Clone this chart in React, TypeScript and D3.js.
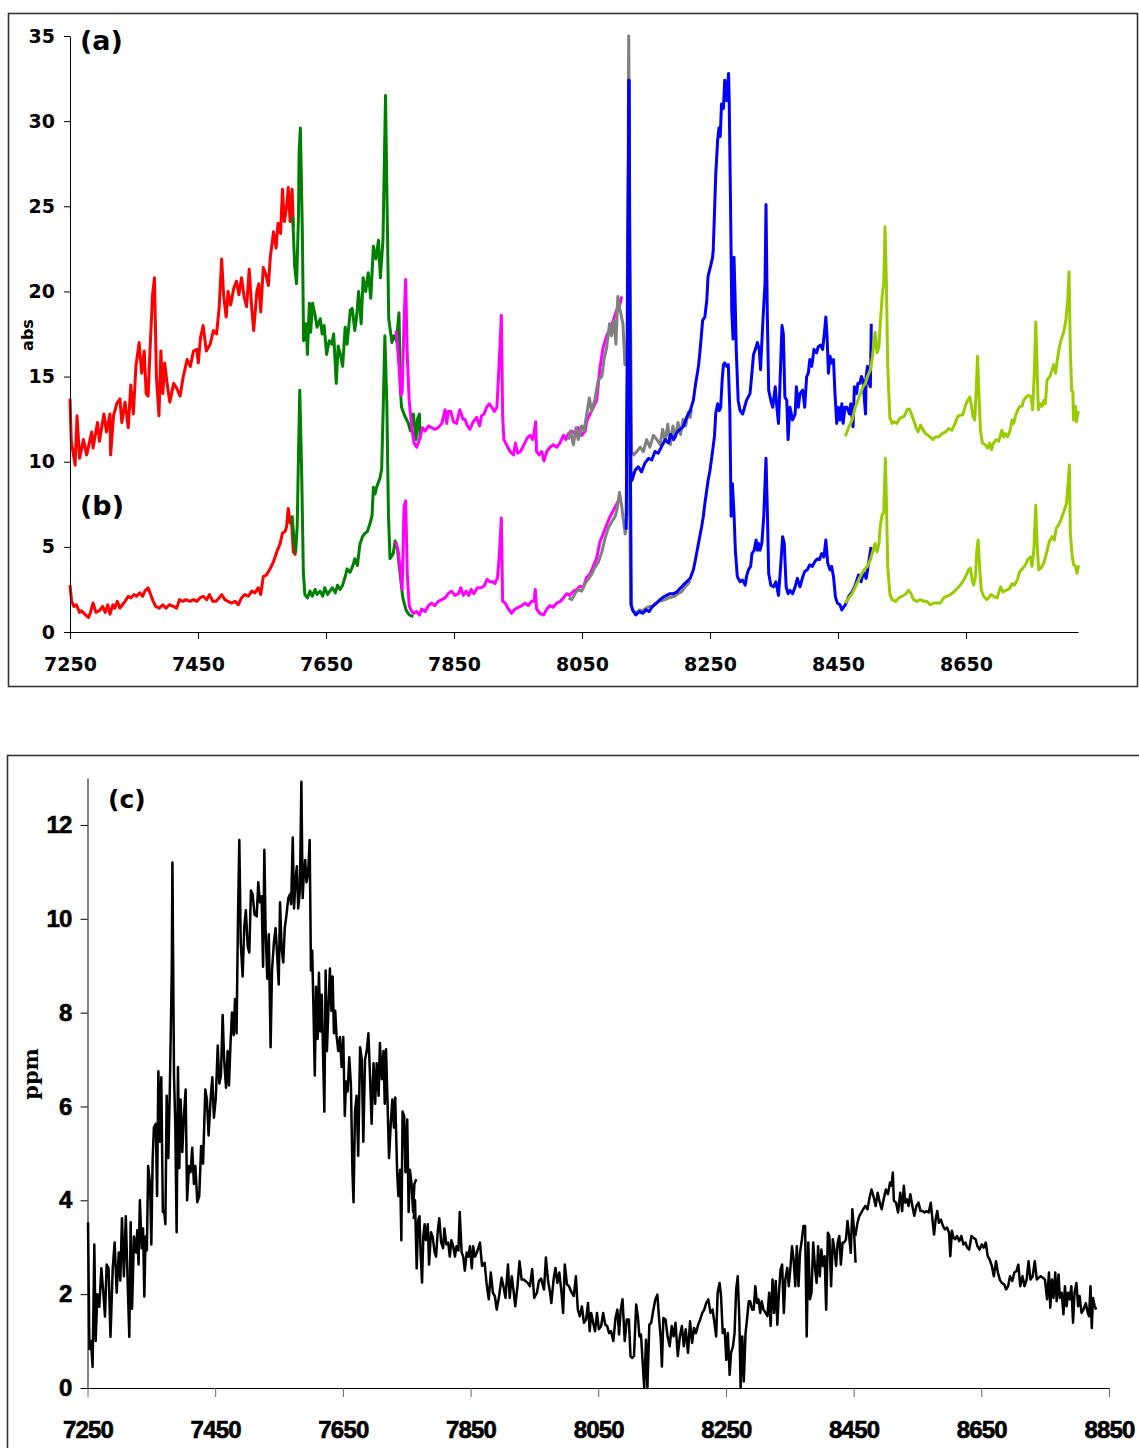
import React, { useEffect, useRef } from 'react';
import * as d3 from 'd3';

type Pt = [number, number];

// ---- panel (a): absorbance, upper traces ----
const redA: Pt[] = [[7250,13.7],[7252,11.2],[7258,9.8],[7261,12.7],[7265,10.2],[7271,11.3],[7276,10.4],[7284,11.75],[7286,10.8],[7293,12.3],[7296,11.2],[7303,12.8],[7307,11.75],[7312.5,12.8],[7313.5,10.4],[7318,12.7],[7323,13.4],[7328,13.7],[7331,12.3],[7336,13.5],[7341,12.0],[7345,14.5],[7349,12.8],[7353,15.6],[7358,17.0],[7362,15.2],[7366,16.5],[7369,14.0],[7372,13.85],[7375,16.5],[7379,19.8],[7382,20.8],[7385,15.0],[7389,12.7],[7392,16.5],[7395,14.0],[7398,15.8],[7402,14.5],[7406,13.5],[7412,14.6],[7417,14.3],[7422,13.85],[7427,15.0],[7433,16.0],[7438,15.6],[7443,16.5],[7448,16.6],[7450.5,15.8],[7454,17.3],[7458,18.0],[7463,16.5],[7469,16.9],[7474,17.7],[7479,17.5],[7483,19.0],[7487,21.9],[7490,19.8],[7494,18.5],[7497,20.0],[7501,19.2],[7506,20.2],[7510,20.6],[7514,19.8],[7518,20.8],[7522,19.7],[7526,19.1],[7530,21.3],[7534,19.0],[7537,17.7],[7542,20.0],[7545,20.45],[7548,18.8],[7552,21.4],[7556,21.0],[7560,20.35],[7563,22.0],[7568,23.5],[7572,22.55],[7575,24.0],[7579,23.4],[7582,26.0],[7585,24.1],[7589,25.1],[7591,26.1],[7594,24.1],[7597,26.0],[7599,23.8]];
const greenA: Pt[] = [[7598,24.4],[7601,21.5],[7604,20.45],[7607,24.4],[7608,28.2],[7610,29.6],[7613,23.6],[7615,17.1],[7619,18.1],[7621,16.3],[7624,19.3],[7626,17.6],[7629,19.3],[7633,18.6],[7636,17.9],[7641,18.4],[7644,17.5],[7647,18.0],[7651,16.3],[7655,17.1],[7659,16.9],[7662,17.5],[7666,14.6],[7669,16.8],[7673,16.2],[7676,15.6],[7680,17.9],[7683,16.9],[7688,18.9],[7691,19.0],[7695,17.7],[7698,18.6],[7701,20.0],[7705,18.1],[7708,20.8],[7712,20.0],[7716,21.1],[7720,19.6],[7724,22.65],[7728,21.9],[7732,23.0],[7735,20.8],[7739,23.0],[7741,27.2],[7743,31.5],[7746,23.6],[7748,18.4],[7753,17.0],[7756,17.4],[7760,17.1],[7764,18.75],[7766.5,14.1],[7768,13.2],[7773,12.7],[7778.7,12.25],[7782,11.8],[7786.5,12.8],[7790.7,11.3],[7793,12.5],[7796,12.8],[7797,11.3]];
const magentaA: Pt[] = [[7759.4,17.7],[7763,16.2],[7767,13.9],[7769,14.1],[7772,18.3],[7774.5,20.7],[7777,16.2],[7780,13.6],[7784,12.0],[7787.5,11.1],[7791.7,10.85],[7796,11.3],[7801,12.0],[7805,11.8],[7810,12.1],[7815,12.0],[7820,11.9],[7825.5,12.0],[7831,12.25],[7836,13.05],[7838.6,12.25],[7841,12.95],[7845,12.95],[7849,12.35],[7854,12.25],[7859,13.05],[7864,12.5],[7867,12.5],[7871,12.1],[7875,11.9],[7880,12.35],[7885.5,12.6],[7890,12.1],[7893,12.7],[7897,12.8],[7901,13.2],[7905,13.4],[7909,13.2],[7913,12.95],[7917,13.2],[7919,14.6],[7922,16.9],[7924,18.6],[7926,12.7],[7928,11.3],[7932,11.0],[7937.5,10.6],[7943,10.4],[7946,11.1],[7949.5,10.5],[7954,10.6],[7959.4,11.0],[7964.6,11.4],[7968.8,11.55],[7973,11.3],[7975.5,11.8],[7977.6,12.35],[7979,10.6],[7983,10.4],[7987,10.6],[7990.6,10.05],[7995,10.6],[8000,10.85],[8005,11.0],[8010.5,10.85],[8015.6,11.1],[8021,11.55],[8024.5,11.3],[8028.7,11.65],[8034,11.8],[8039,11.65],[8044,12.0],[8049.5,11.55],[8055,11.8],[8057.3,12.35],[8062.5,12.8],[8067.7,13.2],[8073,13.6],[8078,15.5],[8083,16.7],[8088.5,17.4],[8094,17.8],[8099,18.3],[8105,19.0],[8109,19.2],[8112,19.7]];
const grayA: Pt[] = [[8028.7,11.3],[8032,11.8],[8036.5,11.0],[8040.6,12.0],[8044,11.3],[8049.5,12.1],[8053,11.8],[8057,12.7],[8061.5,13.75],[8065,12.95],[8070,13.65],[8075.5,14.8],[8081,15.0],[8084.4,16.0],[8088.5,16.7],[8093,18.1],[8096,17.4],[8100,18.3],[8103,16.9],[8106,19.7],[8109,19.0],[8114,18.1],[8117,15.7],[8120,15.7],[8122,26.6],[8123,35.0],[8125,22.0],[8127.6,10.6],[8131,10.4],[8135.5,10.6],[8141,10.85],[8146,10.6],[8151,11.3],[8156,10.85],[8161.5,11.55],[8167,11.3],[8172,11.0],[8176,11.9],[8180,11.2],[8184,12.2],[8188,11.0],[8192,12.1],[8196,11.4],[8200,12.3],[8204,11.6],[8208,12.5],[8212,12.1],[8216,12.9],[8219,12.6],[8221,13.1]];
const blueA: Pt[] = [[8119.5,9.5],[8121.5,20],[8123.3,32.4],[8125,18],[8126.5,9.4],[8128,8.9],[8133,9.5],[8138,9.7],[8143,9.4],[8148,9.9],[8154,10.2],[8159,10.1],[8164,10.6],[8169,10.5],[8174.5,10.9],[8180,11.3],[8185,11.1],[8188.5,11.6],[8193,11.3],[8198,11.7],[8203,11.9],[8208,12.05],[8213.5,12.6],[8219,13.0],[8224,13.6],[8227.6,14.6],[8232,15.6],[8235,16.75],[8238.5,18.3],[8242,18.5],[8245,19.5],[8247,20.9],[8251,21.5],[8254,22.0],[8255,22.4],[8257,24.6],[8259,26.9],[8262,28.9],[8264,29.6],[8266,29.1],[8268,31.0],[8271,30.75],[8273,32.4],[8276,31.2],[8279,32.8],[8280,31.2],[8282,25.4],[8284,18.9],[8286,17.2],[8287.5,22.0],[8289,20.0],[8291,16.6],[8294,13.6],[8297,13.0],[8301,12.8],[8304,13.2],[8307,13.6],[8312.5,14.0],[8315,15.0],[8318,16.3],[8321,16.6],[8324,17.0],[8327,16.6],[8329,15.4],[8331,17.0],[8333,18.5],[8336,20.5],[8337.5,25.1],[8339.6,18.5],[8341.7,14.2],[8345,13.6],[8348,13.2],[8350,13.8],[8352,14.4],[8354,13.4],[8357,12.25],[8359,14.2],[8362.5,18.0],[8364.6,17.5],[8367,13.8],[8370,13.6],[8372,11.3],[8375,13.2],[8379,12.45],[8383,12.8],[8385,14.4],[8388,13.2],[8390.6,14.0],[8394.8,14.2],[8398,13.2],[8401,15.0],[8403.6,15.2],[8406,16.0],[8409,15.6],[8412.5,16.6],[8416.7,16.4],[8419,16.75],[8423,16.85],[8426,16.6],[8428.6,17.5],[8431,18.5],[8433,17.3],[8435,15.2],[8437.5,16.2],[8440,15.8],[8443,16.0],[8445,14.2],[8448,12.25],[8450.5,13.2],[8453,12.45],[8456,13.4],[8458,12.25],[8461,13.2],[8464,13.2],[8468,12.8],[8470,13.4],[8473.5,12.05],[8475.6,14.4],[8479,14.0],[8481,14.6],[8484,14.6],[8486.6,15.0],[8489,14.8],[8491,13.8],[8493,12.8],[8494,15.0],[8496,15.6],[8498.5,14.6],[8500.6,14.4],[8502,18.1]];
const limeA: Pt[] = [[8461.5,11.5],[8467,12.05],[8472,12.45],[8477,13.2],[8481,13.6],[8485,14.0],[8489,14.4],[8493,14.6],[8496,15.0],[8500.6,15.4],[8504,16.2],[8506,16.95],[8508,17.6],[8511,16.4],[8514,16.75],[8516,18.1],[8519,19.7],[8521.5,20.5],[8523.5,23.8],[8525.6,20.5],[8527.7,15.6],[8531,12.6],[8534.5,12.25],[8538,12.35],[8542,12.25],[8546.5,12.55],[8550,12.6],[8554,12.7],[8558,13.05],[8561.6,13.1],[8564.7,12.8],[8568,12.45],[8572.5,11.95],[8575,11.75],[8579,12.15],[8583,11.85],[8586.6,11.65],[8590.7,11.55],[8594,11.45],[8598,11.3],[8602,11.45],[8607,11.45],[8612.6,11.65],[8618,11.75],[8623,11.95],[8628,11.85],[8633,12.25],[8637,12.65],[8641,12.75],[8645,12.75],[8649,13.3],[8652.7,13.6],[8656,13.8],[8658,13.4],[8661,12.65],[8663.6,12.45],[8666,14.2],[8668,16.2],[8670,14.2],[8672.5,11.85],[8675.6,11.1],[8680,11.0],[8684,10.8],[8687,11.1],[8689.7,10.7],[8693,11.1],[8697.5,11.3],[8701,11.2],[8704,11.55],[8706,11.85],[8709,11.45],[8711.5,11.65],[8715,11.45],[8719,11.85],[8722,12.45],[8724.6,12.25],[8727,12.65],[8731,13.05],[8734,13.25],[8737.6,13.25],[8740,13.6],[8744,13.8],[8748,13.9],[8751.7,13.8],[8754,13.05],[8757,15.4],[8759,18.2],[8761,15.6],[8763,13.05],[8766,13.4],[8769,13.25],[8771.5,13.6],[8774,13.4],[8776.7,14.8],[8781,15.0],[8784.5,15.4],[8787,15.7],[8790,15.2],[8792,15.8],[8795,16.55],[8798.5,17.15],[8802.7,17.6],[8806,18.3],[8809,19.5],[8811,21.15],[8813,16.55],[8815,14.2],[8817,14.1],[8818,12.45],[8821,13.25],[8822.5,12.35],[8824.6,12.85],[8826.7,12.95]];

// ---- panel (b): absorbance, lower traces ----
const redB: Pt[] = [[7250,2.75],[7252.6,1.8],[7256,1.5],[7260,1.6],[7265,1.15],[7268,1.25],[7273,1.05],[7279,0.85],[7282,1.15],[7286,1.7],[7290.6,1.15],[7296,1.25],[7301,1.5],[7305,1.15],[7309,1.6],[7312.5,1.05],[7317,1.6],[7320,1.4],[7324,1.8],[7328,1.4],[7332,1.6],[7336,1.8],[7341,2.1],[7345,2.0],[7350,2.2],[7354,2.1],[7359,2.3],[7363.5,2.1],[7367,2.4],[7372,2.6],[7376,2.2],[7380,1.8],[7384,1.5],[7389.6,1.4],[7395,1.6],[7400,1.4],[7405,1.6],[7411.5,1.5],[7416.7,1.4],[7421,1.9],[7426,1.8],[7431,1.9],[7437.5,1.8],[7443,1.9],[7448,1.8],[7453,2.0],[7458,2.1],[7463.5,1.9],[7468,2.2],[7473,1.8],[7478,1.8],[7483,2.0],[7487,2.2],[7492,1.9],[7497,1.8],[7502.6,1.7],[7508,1.8],[7513,1.6],[7518,2.0],[7523,2.2],[7528.6,2.1],[7534,2.4],[7539,2.3],[7544,2.6],[7548,2.2],[7552,3.25],[7557,3.35],[7562.5,3.7],[7567.7,4.1],[7573,4.7],[7578,5.15],[7582,5.8],[7586,5.9],[7588.5,6.2],[7591,7.25],[7594,6.4],[7596,6.6],[7599,4.7],[7603,4.5]];
const greenB: Pt[] = [[7597,6.85],[7600,5.4],[7602.6,4.7],[7605,6.2],[7607,10.4],[7609,14.2],[7612,9.35],[7614.6,3.5],[7617,2.2],[7621,2.0],[7625,2.4],[7628.6,2.1],[7633,2.5],[7636,2.2],[7640.6,2.4],[7645,2.1],[7648,2.6],[7652.6,2.2],[7656,2.4],[7660,2.6],[7664.6,2.3],[7668,2.75],[7672,2.5],[7676,2.75],[7680,3.25],[7683,3.7],[7687.5,3.5],[7692,3.9],[7695,4.3],[7699,3.9],[7703,5.15],[7707,5.6],[7711,5.8],[7714.6,5.9],[7719,6.4],[7722,6.85],[7724,8.5],[7726.6,8.1],[7729,8.5],[7732,8.8],[7734,9.0],[7737,9.55],[7739.6,13.5],[7742,17.4],[7745,13.5],[7747.6,6.85],[7750,4.3],[7755,4.6],[7758,5.35],[7761.5,4.9],[7764.6,3.8],[7767,3.0],[7770,2.0],[7775,1.3],[7780,1.0],[7786.5,0.9]];
const magentaB: Pt[] = [[7759,5.3],[7763,4.7],[7767,3.4],[7769,2.5],[7772,7.4],[7774.5,7.7],[7777,3.4],[7780,1.55],[7784,1.2],[7787.5,1.1],[7791.7,1.2],[7796,1.0],[7799.5,1.35],[7805,1.2],[7810,1.55],[7815,1.7],[7820,1.55],[7825.5,1.8],[7831,1.9],[7836,2.0],[7841,2.25],[7846,2.4],[7851.6,2.15],[7857,2.25],[7860.5,2.6],[7864.6,2.15],[7869,2.4],[7873,2.15],[7877,2.5],[7881,2.25],[7886.5,2.6],[7892,2.6],[7897,2.7],[7902,3.1],[7906,2.95],[7910.5,2.95],[7914,2.85],[7918,3.2],[7921,4.6],[7924,6.7],[7926,1.8],[7930,1.7],[7935,1.35],[7940,1.1],[7945.3,1.35],[7950.5,1.45],[7956,1.55],[7961,1.7],[7966,1.55],[7971,1.8],[7975,1.8],[7977,2.5],[7979,1.35],[7984,1.1],[7990,1.0],[7995,1.35],[8000,1.55],[8005,1.45],[8010.5,1.7],[8016,1.8],[8021,2.0],[8026,2.25],[8031,2.15],[8036.5,2.4],[8042,2.5],[8047,2.7],[8052,2.6],[8057,3.2],[8062.5,3.4],[8068,3.9],[8073,4.35],[8078,5.3],[8083,5.75],[8088.5,6.3],[8094,6.8],[8099,7.15],[8104,7.5],[8108,7.8]];
const grayB: Pt[] = [[8029,2.0],[8034,1.9],[8039,2.25],[8044,2.5],[8049.5,2.4],[8055,2.85],[8060,3.1],[8065,3.4],[8070,3.8],[8075.5,4.1],[8081,4.7],[8086,5.5],[8091,6.1],[8096,6.45],[8102,6.8],[8105,7.25],[8108.5,8.2],[8112,7.4],[8115,6.45],[8117.5,5.75],[8120,6.9],[8122,12],[8123,16],[8124.5,8],[8126,1.6],[8130,1.2],[8135,1.15],[8140,1.3],[8145,1.25],[8150,1.4],[8155,1.5],[8160,1.5],[8165,1.7],[8170,1.8],[8175,1.85],[8180,1.9],[8185,2.0],[8190,2.05],[8195,2.1],[8200,2.25],[8205,2.35],[8210,2.6],[8215,2.8],[8219,3.0]];
const blueB: Pt[] = [[8119,6.0],[8121,16],[8123.3,32.4],[8125,14],[8127,1.6],[8129,1.3],[8134,1.0],[8139.6,1.2],[8145,1.1],[8150,1.3],[8155,1.2],[8160,1.5],[8166.7,1.7],[8172,1.9],[8177,2.05],[8182,2.15],[8187.5,2.25],[8193,2.25],[8198,2.35],[8203,2.55],[8208,2.75],[8213.5,2.95],[8219,3.15],[8224,3.65],[8227,4.2],[8230,4.8],[8234,5.6],[8237,6.2],[8239.6,6.8],[8242,7.55],[8245,8.35],[8247,8.9],[8250,9.5],[8253.6,10.5],[8257,11.5],[8259,12.85],[8262,13.4],[8264.6,13.0],[8266.7,13.2],[8269,14.8],[8271,15.7],[8273,15.8],[8276,15.6],[8278.6,15.7],[8281,13.0],[8283,6.8],[8285,8.7],[8287.5,6.95],[8289.6,4.8],[8292.7,3.25],[8297,2.95],[8301,3.05],[8305,2.75],[8307,3.25],[8310,3.65],[8313.5,3.85],[8315.6,4.6],[8319,4.8],[8322,5.4],[8324,4.8],[8326,5.2],[8328,4.8],[8331,5.2],[8334,6.8],[8337.5,10.2],[8339.6,7.15],[8341.7,3.45],[8345,2.75],[8349,2.65],[8353,2.95],[8357,2.15],[8360,3.65],[8363.5,5.6],[8366,5.2],[8369,2.65],[8372,2.25],[8375,2.45],[8379,2.25],[8383,2.65],[8386.5,3.15],[8390.6,2.65],[8395,3.25],[8398,3.55],[8402,3.65],[8406,3.95],[8410,3.85],[8414,4.15],[8418,4.3],[8421,4.25],[8424.5,4.6],[8428,4.4],[8431,5.4],[8434,4.05],[8437.5,3.65],[8440,3.85],[8443,3.25],[8446,2.05],[8449,1.7],[8453,1.6],[8456,1.3],[8461.5,1.6],[8467,2.1],[8472,2.35],[8477,2.75],[8482,3.35],[8486,2.95],[8490,3.55],[8494,3.15],[8498,4.1],[8501.7,5.0]];
const limeB: Pt[] = [[8461.5,1.7],[8467,2.0],[8472,2.25],[8477,2.65],[8482,3.05],[8487.6,3.45],[8493,3.75],[8496,3.85],[8500.6,4.25],[8505,4.8],[8508,5.2],[8511,4.7],[8514,5.2],[8516,6.2],[8519,6.9],[8521.5,7.0],[8524,10.2],[8525.6,7.75],[8527.7,3.85],[8531,2.25],[8534.5,1.9],[8540,1.8],[8545,2.0],[8550,2.1],[8555,2.2],[8560.5,2.45],[8564,2.25],[8568,1.9],[8573.5,1.8],[8579,1.9],[8584,1.8],[8589,1.8],[8594,1.6],[8599.6,1.7],[8605,1.7],[8610,1.7],[8615,2.0],[8620,2.1],[8625.6,2.2],[8631,2.35],[8636,2.55],[8641,2.75],[8646.5,3.05],[8650.6,3.35],[8654,3.65],[8657,3.75],[8659.5,3.05],[8662,2.75],[8664.7,3.25],[8667,4.8],[8669,5.4],[8671.5,3.65],[8674,2.45],[8677.7,2.1],[8682,1.9],[8685.5,2.0],[8689,2.2],[8693,2.1],[8698.5,2.0],[8704,2.65],[8708,2.35],[8713,2.45],[8718,2.55],[8722,2.85],[8725.6,2.75],[8730,3.05],[8734,3.55],[8739,3.75],[8743,3.95],[8746.5,4.25],[8750.6,4.4],[8753,3.85],[8756,4.8],[8759,7.45],[8761,5.2],[8763.6,3.65],[8767,3.75],[8771.5,4.05],[8775.6,4.6],[8780,5.3],[8784.5,5.6],[8788,5.4],[8791,6.1],[8795,6.3],[8798.5,6.6],[8802.7,7.05],[8807,7.55],[8809.5,8.75],[8811.6,9.8],[8813,5.8],[8815.6,4.6],[8818,3.95],[8821,3.85],[8823.5,3.45],[8825.6,3.85],[8827.7,3.85]];

// ---- panel (c): ppm, three overlapping pieces ----
const ppm1: Pt[] = [[7250.8,3.53],[7253,0.83],[7255.5,1.0],[7258,0.45],[7260.7,3.06],[7262.8,1.0],[7265.4,2.0],[7268.5,1.73],[7271.7,2.55],[7274.8,2.03],[7277.4,1.52],[7280,2.63],[7283,2.55],[7286,1.09],[7289.5,2.55],[7292.5,3.1],[7295.7,2.03],[7299,2.89],[7301.4,2.29],[7304,3.62],[7307,2.38],[7310,3.66],[7313,2.2],[7315.5,1.09],[7317.6,3.53],[7319.8,1.69],[7322.8,3.23],[7326,2.89],[7328,3.36],[7330,2.63],[7332,4.0],[7335,2.98],[7337,3.4],[7339,1.95],[7341,3.23],[7343,2.93],[7345,4.73],[7348,4.35],[7350,3.06],[7352,4.86],[7354,5.55],[7357,5.63],[7359,4.09],[7361,6.75],[7363.5,5.25],[7365.6,6.62],[7368,3.75],[7370,3.79],[7372,3.49],[7374,6.23],[7376.6,4.9],[7379,6.4],[7382,8.9],[7383,11.2],[7385.5,6.66],[7387.5,5.63],[7389.6,3.32],[7391.7,6.84],[7393.8,4.69],[7395.9,6.15],[7398.5,5.03],[7401,5.8],[7403.7,6.36],[7406,4.0],[7409,4.73],[7411.5,4.6],[7414,5.12],[7416.7,4.35],[7419,4.73],[7422,3.96],[7425,4.09],[7428,5.16],[7431,4.78],[7434.5,6.36],[7437,6.15],[7439.7,5.38],[7443,6.19],[7445.5,6.62],[7448,5.76],[7451,6.19],[7454,7.3],[7456.5,6.49],[7459,6.66],[7461.7,7.95],[7464,7.0],[7467,6.4],[7469.5,7.18],[7471.6,6.45],[7474,7.35],[7476.3,8.0],[7479,7.52],[7481,8.29],[7483.5,7.56],[7485.6,9.92],[7487.8,11.68],[7490,9.5],[7493,8.77],[7495.6,9.84],[7498,10.18],[7501,9.4],[7503.5,9.28],[7506,10.6],[7508.6,10.52],[7511.7,10.09],[7515,10.05],[7517.5,10.78],[7520,10.35],[7522.7,10.48],[7525,8.98],[7527,11.47],[7529,9.75],[7531.6,8.72],[7534,9.67],[7536.8,7.26],[7539,8.9],[7542,9.5],[7544.6,9.8],[7547,9.24],[7549.5,8.6],[7551.6,10.35],[7554,9.37],[7556.6,9.07],[7559,9.8],[7561.8,10.1],[7564.5,10.44],[7567,10.52],[7569,10.31],[7571.5,11.73],[7573.5,10.22],[7576,10.87],[7578,11.12],[7580,10.22],[7582.7,10.6],[7585,12.92],[7587,10.44],[7589,11.0],[7591,11.25],[7593,10.78],[7595.5,10.95],[7598,11.68],[7600,8.9],[7602,9.32],[7604,8.04],[7606,6.66],[7608,8.55],[7610.5,7.44],[7612.5,8.85],[7614.6,7.6],[7617,8.38],[7619,7.09],[7621,5.89],[7623,8.9],[7625,7.18],[7627,7.95],[7629.7,8.94],[7632,8.04],[7634,8.77],[7636,7.56],[7638,8.04],[7640,7.52],[7642.8,7.18],[7645.4,7.48],[7648,6.84],[7650.6,7.48],[7653,5.8],[7655,6.53],[7657.4,6.32],[7660,7.05],[7662.6,6.45],[7665,4.6],[7666.7,3.96],[7669,5.89],[7671.5,6.23],[7674,4.95],[7677,7.26],[7679.6,7.0],[7682,5.25],[7684.7,7.0],[7687.3,7.18],[7690,7.56],[7692.6,6.62],[7695,5.63],[7698,6.92],[7700.6,6.06],[7703,6.92],[7706,6.23],[7708,7.35],[7711,6.58],[7713.6,7.18],[7715.6,6.06],[7717.6,7.22],[7720,6.06],[7722.3,4.9],[7725,5.63],[7727.5,6.15],[7730,5.55],[7732,6.19],[7735,4.6],[7737,4.09],[7739.6,4.65],[7741.6,3.15],[7743.5,5.89],[7746,5.8],[7748,4.6],[7750.8,5.72],[7753,3.75],[7755,4.65],[7757.6,4.35],[7760,3.75],[7762,4.35],[7765,4.45]];
const ppm2: Pt[] = [[7761,3.6],[7763,4.0],[7765.6,2.55],[7768,3.58],[7770,3.66],[7772,2.8],[7774,2.25],[7776,3.23],[7778,3.49],[7780,3.15],[7783,3.49],[7785,2.63],[7788,3.32],[7790.6,3.23],[7793.7,2.89],[7796,2.8],[7798.5,3.32],[7801,3.62],[7804,3.1],[7807,2.98],[7809,3.4],[7812,3.06],[7815,3.1],[7817.5,2.8],[7820,3.15],[7822.8,3.02],[7825.5,2.8],[7828,3.02],[7831,2.93],[7833,3.75],[7836,2.89],[7838.5,2.8],[7841,2.5],[7844,2.89],[7846.6,2.8],[7849,3.02],[7852,2.55],[7854,3.02],[7857,2.8],[7860,2.89],[7864.7,3.1],[7868,2.6],[7872,2.67],[7875,2.24],[7878.5,1.89],[7881.7,2.46],[7885,2.03],[7888,1.96],[7891,1.67],[7894.7,1.96],[7898.6,2.35],[7901.5,2.17],[7904.7,1.92],[7908.6,2.63],[7911.3,1.92],[7914.5,2.38],[7917.7,2.03],[7920,1.74],[7923.5,2.17],[7926.7,2.7],[7930,2.31],[7933,2.31],[7936,2.28],[7939.5,2.24],[7943,2.17],[7946.5,2.53],[7949.7,1.92],[7954,2.03],[7957,2.28],[7960.5,2.33],[7965,2.1],[7968,2.78],[7971.4,2.28],[7974.6,2.03],[7976.5,1.81],[7980,2.31],[7983,2.56],[7986,2.24],[7989,2.46],[7992.5,2.03],[7995,1.6],[7997.6,2.63],[8001,2.21],[8004,2.17],[8008.5,2.03],[8011.7,1.96],[8015,2.38],[8018,1.67],[8021,1.53],[8024.4,1.74],[8027.6,1.39],[8031,1.46],[8034,1.81],[8036.6,1.21],[8039,1.6],[8042,1.39],[8045,1.21],[8048,1.6],[8051,1.25],[8054.5,1.32],[8057.7,1.6],[8061,1.35],[8064,1.32],[8067,1.17],[8070,1.21],[8073.6,1.0],[8077,1.49],[8080,1.67],[8082.6,1.14],[8085,1.64],[8088,1.89],[8091.5,1.0],[8094.7,1.46],[8098,1.46],[8100.5,0.68],[8103,0.64],[8106,0.68],[8109.4,1.78],[8112,1.53],[8114.5,1.1],[8117,1.14],[8119.6,0.53],[8122,0],[8124.8,1.03],[8127,0],[8130,1.35],[8133,1.39],[8136,1.64],[8139.5,1.89],[8142.6,1.99],[8145,1.53],[8148,1.03],[8149.7,0.46],[8152,1.49],[8155.4,1.46],[8158.6,1.1],[8162,0.89],[8165,1.32],[8168,1.1],[8171,1.39],[8174.6,0.68],[8177.8,1.1],[8181,1.32],[8184,0.89],[8187,1.25],[8190.6,0.75],[8193.8,1.42],[8197,0.96],[8200,1.28],[8203,1.17],[8206.5,1.35],[8209.7,1.46],[8213,1.6],[8216,1.67],[8219,1.81],[8222.5,1.89],[8225.7,1.6],[8229,1.67],[8232,1.39],[8234.7,1.1],[8237,2.03],[8240,2.24],[8242.3,1.96],[8245,1.17],[8248,1.25],[8250.6,0.6],[8253,1.17],[8255.8,0.28],[8258,0.75],[8261,0.89],[8263.5,1.17],[8266,2.1],[8268.5,2.38],[8271,1.46],[8273,0],[8275.6,1.1],[8278,0.14],[8280.7,1.17],[8283,1.46],[8285.8,1.85],[8288,1.85],[8291,1.67],[8293.5,1.67],[8296,2.17],[8298.6,1.81],[8301,1.89],[8303.7,1.6],[8306,1.85],[8308.8,1.67],[8312,1.6],[8315,1.53],[8317.7,2.03],[8320,1.32],[8323,2.31],[8325.4,1.6],[8328,2.28],[8330.5,1.35],[8333,2.03],[8335.6,2.53],[8338,2.63],[8340.7,1.6],[8343,2.31],[8346,2.56],[8348.4,2.17],[8351,2.56],[8353.5,3.02],[8356,2.74],[8358.6,2.17],[8361,3.02],[8363.7,2.17],[8366,2.88],[8369,3.17],[8371.4,3.45],[8374,3.45],[8376.5,1.1],[8379,3.1],[8381.6,1.89],[8384,2.03],[8386.7,3.1],[8389.3,2.6],[8392,2.24],[8394.4,3.02],[8397,2.38],[8399.5,2.95],[8402,2.6],[8404.6,2.81],[8407,1.67],[8409.7,3.31],[8412,3.24],[8414.7,2.17],[8417.4,3.17],[8420,2.95],[8422.5,2.6],[8425,3.1],[8427.6,3.24],[8430,2.63],[8432.7,3.1],[8435.3,3.1],[8438,3.17],[8440.4,3.56],[8443,3.24],[8445.5,2.88],[8448,3.81],[8450.6,3.35],[8453,2.67]];
const ppm3: Pt[] = [[8452.6,3.24],[8456,3.52],[8459,3.67],[8462,3.74],[8465,3.81],[8468.5,3.88],[8471.7,3.81],[8475,4.06],[8478,4.23],[8481,4.09],[8484.5,3.88],[8487.7,4.16],[8491,3.95],[8494,3.81],[8497,4.02],[8500.5,4.23],[8503.7,4.13],[8507,4.38],[8509.4,4.31],[8511.4,4.59],[8513,3.99],[8516.5,3.95],[8519.6,3.74],[8523,4.16],[8526,3.77],[8528.6,4.31],[8531,3.95],[8533.7,4.02],[8536,3.88],[8538.8,4.13],[8542,3.88],[8545,3.67],[8548.4,3.88],[8551.6,3.95],[8554.8,3.77],[8558,3.77],[8561,3.74],[8564,3.77],[8567.6,3.74],[8570.8,3.95],[8574,3.52],[8576,3.27],[8578.4,3.59],[8581,3.77],[8583.5,3.52],[8586.7,3.59],[8590,3.45],[8593,3.38],[8596.3,3.42],[8599.5,3.31],[8601.4,2.81],[8604,3.35],[8606.5,3.2],[8609,3.17],[8612,3.24],[8615.5,3.13],[8618.7,3.24],[8622,3.06],[8625,3.1],[8628,2.99],[8631,2.95],[8634.6,3.24],[8637.8,3.2],[8641,3.17],[8644,3.02],[8647.4,2.95],[8650.6,3.06],[8653.7,2.99],[8657,3.1],[8660,2.81],[8663,2.74],[8666.5,2.6],[8669.6,2.38],[8673,2.7],[8676,2.46],[8679,2.31],[8682,2.24],[8685.8,2.21],[8689,2.1],[8692,2.17],[8695,2.38],[8698.5,2.28],[8701.8,2.46],[8705,2.49],[8708,2.63],[8711,2.17],[8714.5,2.38],[8717.7,2.17],[8721,2.31],[8724,2.7],[8727,2.31],[8730.5,2.38],[8733.7,2.7],[8737,2.31],[8740,2.35],[8743,2.38],[8746.5,2.35],[8749.7,2.31],[8753,1.89],[8756,2.46],[8758,1.71],[8760.6,2.31],[8763,1.92],[8765.8,2.46],[8768,1.85],[8771,2.42],[8773,1.92],[8776,2.03],[8778.6,1.57],[8781,2.17],[8783.5,1.74],[8786,2.03],[8788.7,1.89],[8791,2.17],[8793.7,1.39],[8796,2.03],[8799,2.24],[8801.6,1.74],[8804,1.96],[8807,1.6],[8810,1.67],[8813.6,1.81],[8816.8,1.6],[8818.7,1.53],[8821,2.17],[8823,1.28],[8825,1.92],[8827.6,1.74],[8830,1.67]];

// ---- tick labels ----
const absTicks = [0, 5, 10, 15, 20, 25, 30, 35];
const wnTicksTop = [7250, 7450, 7650, 7850, 8050, 8250, 8450, 8650];
const ppmTicks = [0, 2, 4, 6, 8, 10, 12];
const wnTicksBottom = [7250, 7450, 7650, 7850, 8050, 8250, 8450, 8650, 8850];

const topSeries: { data: Pt[]; color: string }[] = [
    { data: redA, color: '#ff0000' }, { data: redB, color: '#ff0000' },
    { data: greenA, color: '#008000' }, { data: greenB, color: '#008000' },
    { data: magentaA, color: '#ff00ff' }, { data: magentaB, color: '#ff00ff' },
    { data: grayA, color: '#808080' }, { data: grayB, color: '#808080' },
    { data: blueA, color: '#0000ff' }, { data: blueB, color: '#0000ff' },
    { data: limeA, color: '#99cc00' }, { data: limeB, color: '#99cc00' },
];

export default function App() {
    const ref = useRef<SVGSVGElement>(null);

    useEffect(() => {
        const svg = d3.select(ref.current);
        svg.selectAll('*').remove();

        // frames
        svg.append('rect').attr('x', 8.5).attr('y', 13.5).attr('width', 1129).attr('height', 673)
            .attr('fill', 'none').attr('stroke', '#333').attr('stroke-width', 1.6);
        svg.append('rect').attr('x', 7.5).attr('y', 755.5).attr('width', 1140).attr('height', 720)
            .attr('fill', 'none').attr('stroke', '#333').attr('stroke-width', 1.6);

        // ---------- top chart (a)/(b) ----------
        const x1 = d3.scaleLinear().domain([7250, 8825]).range([70, 1078]);
        const y1 = d3.scaleLinear().domain([0, 35]).range([632, 36]);

        const top = svg.append('g');
        const line1 = d3.line<Pt>().x(d => x1(d[0])).y(d => y1(d[1]));
        topSeries.forEach(s => {
            top.append('path').datum(s.data)
                .attr('fill', 'none').attr('stroke', s.color).attr('stroke-width', 3)
                .attr('stroke-linejoin', 'round').attr('d', line1);
        });

        const ax1 = top.append('g').attr('transform', 'translate(0,632)')
            .call(d3.axisBottom(x1).tickValues(wnTicksTop).tickSize(7).tickSizeOuter(0).tickPadding(19).tickFormat(d3.format('d')));
        const ay1 = top.append('g').attr('transform', 'translate(70,0)')
            .call(d3.axisLeft(y1).tickValues(absTicks).tickSize(6).tickSizeOuter(0).tickPadding(9));
        [ax1, ay1].forEach(a => {
            a.selectAll('path,line').attr('stroke', '#000');
            a.selectAll('text').attr('font-family', 'DejaVu Sans, Verdana, sans-serif')
                .attr('font-weight', 'bold').attr('font-size', 19).attr('fill', '#000');
        });

        top.append('text').attr('transform', 'translate(33,335) rotate(-90)')
            .attr('text-anchor', 'middle').attr('font-family', 'DejaVu Sans, sans-serif')
            .attr('font-weight', 'bold').attr('font-size', 16).text('abs');
        top.append('text').attr('x', 80).attr('y', 50)
            .attr('font-family', 'DejaVu Sans, sans-serif').attr('font-weight', 'bold')
            .attr('font-size', 27).text('(a)');
        top.append('text').attr('x', 80).attr('y', 515)
            .attr('font-family', 'DejaVu Sans, sans-serif').attr('font-weight', 'bold')
            .attr('font-size', 27).text('(b)');

        // ---------- bottom chart (c) ----------
        const x2 = d3.scaleLinear().domain([7250, 8850]).range([87.5, 1109]);
        const y2 = d3.scaleLinear().domain([0, 13]).range([1388, 778]);

        const bot = svg.append('g');
        const line2 = d3.line<Pt>().x(d => x2(d[0])).y(d => y2(d[1]));
        [ppm1, ppm2, ppm3].forEach(p => {
            bot.append('path').datum(p)
                .attr('fill', 'none').attr('stroke', '#000').attr('stroke-width', 2.5)
                .attr('stroke-linejoin', 'round').attr('d', line2);
        });

        const ax2 = bot.append('g').attr('transform', 'translate(0,1388)')
            .call(d3.axisBottom(x2).tickValues(wnTicksBottom).tickSize(9).tickSizeOuter(0).tickPadding(24).tickFormat(d3.format('d')));
        const ay2 = bot.append('g').attr('transform', 'translate(87.5,0)')
            .call(d3.axisLeft(y2).tickValues(ppmTicks).tickSize(7).tickSizeOuter(0).tickPadding(9));
        [ax2, ay2].forEach(a => {
            a.selectAll('path,line').attr('stroke', '#000');
            a.selectAll('text').attr('font-family', 'Liberation Sans, Arial, sans-serif')
                .attr('font-weight', 'bold').attr('font-size', 24).attr('letter-spacing', -0.8)
                .attr('fill', '#000').attr('stroke', '#000').attr('stroke-width', 0.6);
        });
        ax2.selectAll('.tick line').attr('stroke', '#666');

        bot.append('text').attr('transform', 'translate(38,1074) rotate(-90)')
            .attr('text-anchor', 'middle').attr('font-family', 'DejaVu Serif, serif')
            .attr('font-weight', 'bold').attr('font-size', 21).text('ppm');
        bot.append('text').attr('x', 108).attr('y', 808)
            .attr('font-family', 'DejaVu Sans, sans-serif').attr('font-weight', 'bold')
            .attr('font-size', 25).text('(c)');
    }, []);

    return (
        <svg ref={ref} width={1139} height={1448}
            style={{ position: 'absolute', left: 0, top: 0, background: '#fff' }} />
    );
}
